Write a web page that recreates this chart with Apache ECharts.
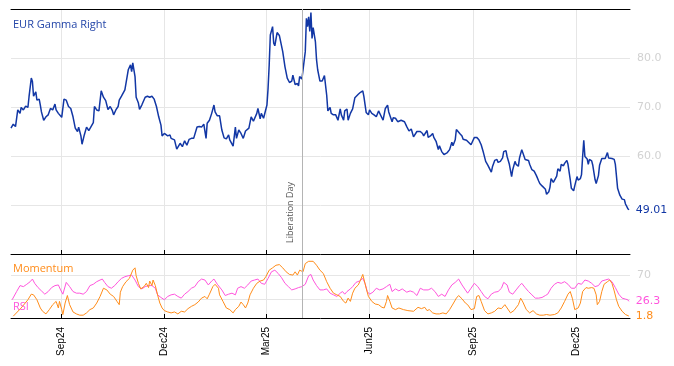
<!DOCTYPE html>
<html><head><meta charset="utf-8">
<script src="https://cdn.jsdelivr.net/npm/echarts@6/dist/echarts.min.js"></script>
<style>html,body{margin:0;padding:0;background:#fff}#c{width:674px;height:366px}</style>
</head><body><div id="c"></div>
<script>
const gammaDates = ['2024-07-18','2024-07-20','2024-07-22','2024-07-24','2024-07-26','2024-07-27','2024-07-29','2024-07-31','2024-08-02','2024-08-03','2024-08-05','2024-08-06','2024-08-07','2024-08-09','2024-08-10','2024-08-12','2024-08-13','2024-08-14','2024-08-16','2024-08-18','2024-08-20','2024-08-22','2024-08-24','2024-08-26','2024-08-27','2024-08-29','2024-09-01','2024-09-03','2024-09-05','2024-09-07','2024-09-09','2024-09-11','2024-09-13','2024-09-15','2024-09-16','2024-09-18','2024-09-19','2024-09-21','2024-09-23','2024-09-25','2024-09-27','2024-09-29','2024-09-30','2024-10-02','2024-10-04','2024-10-06','2024-10-08','2024-10-10','2024-10-12','2024-10-14','2024-10-16','2024-10-17','2024-10-19','2024-10-21','2024-10-22','2024-10-24','2024-10-25','2024-10-27','2024-10-28','2024-10-30','2024-11-01','2024-11-02','2024-11-03','2024-11-05','2024-11-06','2024-11-08','2024-11-09','2024-11-11','2024-11-14','2024-11-16','2024-11-18','2024-11-20','2024-11-22','2024-11-24','2024-11-26','2024-11-28','2024-11-29','2024-12-01','2024-12-02','2024-12-04','2024-12-06','2024-12-07','2024-12-10','2024-12-12','2024-12-13','2024-12-15','2024-12-17','2024-12-19','2024-12-21','2024-12-23','2024-12-25','2024-12-27','2024-12-30','2025-01-01','2025-01-03','2025-01-05','2025-01-07','2025-01-08','2025-01-10','2025-01-12','2025-01-14','2025-01-15','2025-01-17','2025-01-19','2025-01-21','2025-01-23','2025-01-25','2025-01-27','2025-01-28','2025-01-31','2025-02-02','2025-02-03','2025-02-05','2025-02-07','2025-02-09','2025-02-11','2025-02-14','2025-02-16','2025-02-18','2025-02-21','2025-02-22','2025-02-24','2025-02-25','2025-02-27','2025-02-28','2025-03-02','2025-03-03','2025-03-04','2025-03-05','2025-03-07','2025-03-08','2025-03-09','2025-03-11','2025-03-13','2025-03-14','2025-03-16','2025-03-18','2025-03-20','2025-03-22','2025-03-24','2025-03-25','2025-03-27','2025-03-29','2025-03-30','2025-03-31','2025-04-02','2025-04-03','2025-04-05','2025-04-06','2025-04-07','2025-04-08','2025-04-09','2025-04-10','2025-04-11','2025-04-12','2025-04-14','2025-04-15','2025-04-16','2025-04-18','2025-04-20','2025-04-22','2025-04-24','2025-04-25','2025-04-27','2025-04-28','2025-04-30','2025-05-02','2025-05-04','2025-05-06','2025-05-07','2025-05-09','2025-05-10','2025-05-12','2025-05-13','2025-05-15','2025-05-17','2025-05-19','2025-05-20','2025-05-22','2025-05-24','2025-05-26','2025-05-27','2025-05-29','2025-05-31','2025-06-01','2025-06-03','2025-06-05','2025-06-07','2025-06-09','2025-06-10','2025-06-13','2025-06-15','2025-06-17','2025-06-18','2025-06-21','2025-06-22','2025-06-24','2025-06-26','2025-06-29','2025-06-30','2025-07-02','2025-07-04','2025-07-06','2025-07-08','2025-07-10','2025-07-13','2025-07-16','2025-07-18','2025-07-19','2025-07-22','2025-07-23','2025-07-25','2025-07-27','2025-07-28','2025-07-30','2025-08-01','2025-08-02','2025-08-04','2025-08-06','2025-08-07','2025-08-09','2025-08-11','2025-08-13','2025-08-14','2025-08-16','2025-08-17','2025-08-18','2025-08-20','2025-08-22','2025-08-23','2025-08-26','2025-08-27','2025-08-30','2025-08-31','2025-09-02','2025-09-04','2025-09-06','2025-09-08','2025-09-10','2025-09-12','2025-09-14','2025-09-17','2025-09-18','2025-09-20','2025-09-22','2025-09-23','2025-09-25','2025-09-27','2025-09-28','2025-09-30','2025-10-01','2025-10-03','2025-10-05','2025-10-06','2025-10-08','2025-10-09','2025-10-11','2025-10-12','2025-10-14','2025-10-15','2025-10-17','2025-10-18','2025-10-20','2025-10-21','2025-10-23','2025-10-25','2025-10-27','2025-10-29','2025-10-30','2025-11-01','2025-11-02','2025-11-04','2025-11-05','2025-11-07','2025-11-08','2025-11-09','2025-11-11','2025-11-12','2025-11-14','2025-11-15','2025-11-17','2025-11-18','2025-11-20','2025-11-21','2025-11-23','2025-11-24','2025-11-26','2025-11-27','2025-11-29','2025-11-30','2025-12-02','2025-12-03','2025-12-05','2025-12-06','2025-12-07','2025-12-08','2025-12-09','2025-12-11','2025-12-12','2025-12-13','2025-12-15','2025-12-16','2025-12-18','2025-12-19','2025-12-21','2025-12-22','2025-12-24','2025-12-27','2025-12-28','2025-12-29','2025-12-30','2026-01-02','2026-01-04','2026-01-05','2026-01-06','2026-01-07','2026-01-09','2026-01-11','2026-01-13','2026-01-14','2026-01-16','2026-01-17'];
const gammaValues = [65.7,66.5,66.0,69.4,68.7,69.9,69.4,70.2,69.9,72.1,75.9,75.2,72.2,73.1,71.4,71.6,70.4,69.0,67.3,68.0,68.4,69.7,69.4,70.6,69.4,68.7,67.9,71.6,71.4,70.1,69.7,68.0,65.7,65.0,65.9,64.1,62.4,64.3,65.9,65.2,66.0,66.8,70.1,69.4,69.2,73.3,72.0,71.3,69.5,70.1,69.2,68.4,69.4,70.1,71.4,72.2,71.8,73.5,73.3,77.6,78.6,77.2,79.0,76.2,72.0,70.8,69.5,70.4,72.0,72.2,72.0,72.2,71.6,70.1,68.0,66.3,64.1,64.6,65.0,64.1,64.3,63.6,63.3,61.4,61.1,62.6,61.9,63.1,62.2,63.4,63.6,63.6,65.9,66.0,65.9,66.5,63.6,66.7,67.3,68.7,70.4,69.0,68.2,68.2,65.3,63.7,63.5,64.3,63.3,62.0,65.9,63.6,65.3,64.6,63.6,65.1,65.7,68.0,67.1,68.7,69.7,67.6,68.7,67.7,67.3,70.4,73.8,78.6,84.7,86.4,83.0,82.5,85.2,84.6,84.6,81.3,78.2,75.9,75.0,75.3,76.5,74.6,74.8,74.3,76.2,75.7,76.0,81.3,88.1,86.4,88.4,85.4,89.3,84.0,86.2,83.3,79.6,77.6,75.3,75.3,76.4,72.4,69.2,69.9,68.7,68.4,68.4,67.3,69.6,68.4,67.3,69.2,69.6,67.3,68.7,69.6,71.9,71.6,72.6,73.0,73.3,72.1,68.9,68.4,69.4,68.7,68.4,68.0,69.2,69.2,67.3,69.7,70.4,69.0,67.0,67.8,67.7,67.0,67.3,66.9,67.0,66.0,65.1,65.5,63.9,65.0,65.0,64.6,64.1,65.2,63.8,64.1,64.6,63.8,63.0,61.3,62.1,60.9,60.3,59.9,60.7,61.3,62.8,62.1,63.3,65.4,65.8,64.6,64.1,63.4,63.2,62.8,62.3,62.8,63.8,63.8,63.3,62.3,60.7,58.9,58.1,56.7,57.8,59.1,59.3,58.7,58.9,59.6,60.9,61.1,59.9,58.3,55.8,57.2,58.9,58.3,57.9,59.6,61.3,61.3,59.3,59.6,59.1,58.3,57.2,56.9,56.0,54.9,54.4,53.9,54.0,53.2,52.2,52.7,53.6,55.4,54.6,54.2,55.9,57.4,56.9,58.3,58.0,58.5,59.1,58.3,55.2,53.4,52.9,53.9,55.8,55.1,55.4,56.2,59.9,63.2,59.9,59.4,58.3,59.3,59.0,58.1,55.2,54.4,56.0,58.1,59.5,59.5,59.9,60.7,59.6,59.5,59.3,58.3,55.9,53.4,52.0,51.2,51.1,50.2,49.3,49.01];

const rsiDates = ['2024-07-19','2024-07-23','2024-07-26','2024-07-29','2024-08-01','2024-08-04','2024-08-06','2024-08-08','2024-08-11','2024-08-14','2024-08-17','2024-08-20','2024-08-23','2024-08-26','2024-08-29','2024-08-31','2024-09-02','2024-09-05','2024-09-08','2024-09-11','2024-09-14','2024-09-17','2024-09-20','2024-09-23','2024-09-26','2024-09-29','2024-10-02','2024-10-05','2024-10-07','2024-10-09','2024-10-12','2024-10-15','2024-10-18','2024-10-21','2024-10-24','2024-10-27','2024-10-30','2024-11-02','2024-11-05','2024-11-08','2024-11-11','2024-11-14','2024-11-17','2024-11-20','2024-11-23','2024-11-25','2024-11-28','2024-12-01','2024-12-04','2024-12-07','2024-12-10','2024-12-13','2024-12-16','2024-12-19','2024-12-22','2024-12-25','2024-12-28','2024-12-31','2025-01-03','2025-01-06','2025-01-09','2025-01-12','2025-01-14','2025-01-17','2025-01-21','2025-01-24','2025-01-27','2025-01-30','2025-02-02','2025-02-04','2025-02-07','2025-02-10','2025-02-13','2025-02-16','2025-02-19','2025-02-22','2025-02-25','2025-02-28','2025-03-03','2025-03-06','2025-03-09','2025-03-12','2025-03-15','2025-03-18','2025-03-21','2025-03-24','2025-03-27','2025-03-30','2025-04-02','2025-04-05','2025-04-08','2025-04-10','2025-04-12','2025-04-15','2025-04-18','2025-04-21','2025-04-24','2025-04-27','2025-04-30','2025-05-03','2025-05-06','2025-05-08','2025-05-10','2025-05-12','2025-05-15','2025-05-17','2025-05-20','2025-05-23','2025-05-26','2025-05-28','2025-05-30','2025-06-01','2025-06-04','2025-06-07','2025-06-10','2025-06-13','2025-06-16','2025-06-19','2025-06-21','2025-06-24','2025-06-27','2025-06-30','2025-07-04','2025-07-07','2025-07-10','2025-07-13','2025-07-16','2025-07-19','2025-07-23','2025-07-26','2025-07-29','2025-08-01','2025-08-04','2025-08-07','2025-08-10','2025-08-13','2025-08-16','2025-08-19','2025-08-22','2025-08-25','2025-08-27','2025-08-30','2025-09-02','2025-09-05','2025-09-08','2025-09-11','2025-09-14','2025-09-17','2025-09-20','2025-09-23','2025-09-26','2025-09-28','2025-10-01','2025-10-03','2025-10-06','2025-10-09','2025-10-12','2025-10-14','2025-10-17','2025-10-20','2025-10-23','2025-10-26','2025-10-29','2025-11-01','2025-11-04','2025-11-06','2025-11-09','2025-11-12','2025-11-15','2025-11-18','2025-11-21','2025-11-24','2025-11-27','2025-11-30','2025-12-03','2025-12-06','2025-12-09','2025-12-12','2025-12-15','2025-12-18','2025-12-21','2025-12-24','2025-12-27','2025-12-30','2026-01-02','2026-01-05','2026-01-08','2026-01-11','2026-01-14','2026-01-16','2026-01-17'];
const rsiValues = [28.9,42.6,52.5,50.8,54.7,59.0,63.4,56.3,49.2,43.7,38.2,42.6,49.2,52.5,53.6,45.3,38.2,57.9,50.8,42.6,39.9,39.9,38.2,42.6,52.5,54.7,59.0,61.8,63.4,57.9,50.8,48.1,52.5,59.0,64.5,67.3,68.9,70.0,61.8,50.8,47.0,50.8,52.5,52.5,48.1,37.1,32.7,28.9,34.4,37.1,38.2,34.4,31.6,38.2,42.6,48.1,50.8,59.0,63.4,61.8,53.6,60.1,63.4,54.7,45.3,36.0,38.2,39.9,37.1,48.1,50.8,48.1,53.6,60.1,61.8,63.4,56.3,54.7,64.5,75.5,78.2,72.7,65.6,56.3,50.8,45.3,47.0,49.2,50.8,54.7,68.9,71.1,61.8,52.5,45.3,45.3,47.0,39.9,37.1,34.4,39.9,42.6,38.2,42.6,47.0,50.8,57.9,60.1,64.5,56.3,42.6,38.2,41.5,48.1,45.3,47.0,50.8,54.7,42.6,47.0,43.7,47.0,41.5,43.7,41.5,36.0,48.1,45.3,45.3,48.1,42.6,34.4,38.2,34.4,45.3,53.6,57.9,63.4,53.6,45.3,39.9,48.1,56.3,50.8,42.6,34.4,30.5,38.2,41.5,42.6,48.1,57.9,53.6,41.5,38.2,45.3,52.5,56.3,49.2,42.6,37.1,31.6,31.6,32.7,36.0,38.2,48.1,54.7,57.9,56.3,59.0,54.7,48.1,48.1,56.3,54.7,61.8,60.1,56.3,50.8,52.5,60.1,61.8,63.4,59.0,49.2,38.2,31.6,30.0,28.9,26.3];

const momDates = ['2024-07-20','2024-07-27','2024-08-02','2024-08-05','2024-08-07','2024-08-10','2024-08-13','2024-08-15','2024-08-18','2024-08-21','2024-08-24','2024-08-27','2024-08-29','2024-08-30','2024-09-01','2024-09-02','2024-09-04','2024-09-06','2024-09-08','2024-09-11','2024-09-14','2024-09-17','2024-09-20','2024-09-23','2024-09-26','2024-09-29','2024-10-02','2024-10-05','2024-10-08','2024-10-11','2024-10-14','2024-10-17','2024-10-20','2024-10-22','2024-10-23','2024-10-25','2024-10-28','2024-10-31','2024-11-03','2024-11-05','2024-11-06','2024-11-08','2024-11-10','2024-11-13','2024-11-15','2024-11-17','2024-11-18','2024-11-20','2024-11-21','2024-11-23','2024-11-25','2024-11-27','2024-11-29','2024-12-01','2024-12-04','2024-12-07','2024-12-10','2024-12-13','2024-12-16','2024-12-19','2024-12-22','2024-12-25','2024-12-28','2024-12-31','2025-01-03','2025-01-06','2025-01-08','2025-01-10','2025-01-13','2025-01-15','2025-01-18','2025-01-19','2025-01-22','2025-01-25','2025-01-28','2025-01-31','2025-02-02','2025-02-05','2025-02-07','2025-02-09','2025-02-11','2025-02-13','2025-02-15','2025-02-18','2025-02-21','2025-02-24','2025-02-27','2025-03-01','2025-03-04','2025-03-07','2025-03-10','2025-03-13','2025-03-16','2025-03-19','2025-03-22','2025-03-25','2025-03-27','2025-03-29','2025-03-31','2025-04-03','2025-04-05','2025-04-08','2025-04-12','2025-04-15','2025-04-18','2025-04-21','2025-04-24','2025-04-27','2025-04-30','2025-05-03','2025-05-06','2025-05-09','2025-05-11','2025-05-13','2025-05-15','2025-05-17','2025-05-19','2025-05-22','2025-05-24','2025-05-26','2025-05-27','2025-05-29','2025-05-31','2025-06-03','2025-06-06','2025-06-09','2025-06-12','2025-06-14','2025-06-16','2025-06-17','2025-06-19','2025-06-21','2025-06-24','2025-06-27','2025-07-01','2025-07-05','2025-07-10','2025-07-14','2025-07-17','2025-07-20','2025-07-22','2025-07-24','2025-07-27','2025-07-30','2025-08-02','2025-08-05','2025-08-08','2025-08-11','2025-08-14','2025-08-17','2025-08-19','2025-08-22','2025-08-25','2025-08-27','2025-08-30','2025-09-02','2025-09-04','2025-09-06','2025-09-08','2025-09-11','2025-09-14','2025-09-17','2025-09-20','2025-09-23','2025-09-26','2025-09-29','2025-10-01','2025-10-04','2025-10-07','2025-10-11','2025-10-13','2025-10-15','2025-10-18','2025-10-21','2025-10-24','2025-10-27','2025-10-30','2025-11-02','2025-11-05','2025-11-08','2025-11-12','2025-11-15','2025-11-18','2025-11-21','2025-11-24','2025-11-26','2025-11-28','2025-11-30','2025-12-03','2025-12-05','2025-12-07','2025-12-10','2025-12-12','2025-12-15','2025-12-17','2025-12-19','2025-12-20','2025-12-22','2025-12-24','2025-12-26','2025-12-29','2025-12-31','2026-01-02','2026-01-04','2026-01-06','2026-01-08','2026-01-11','2026-01-14','2026-01-17'];
const momValues = [1.5,15.2,28.9,38.2,37.1,28.9,15.2,9.7,5.3,12.5,20.7,26.2,15.2,26.2,12.5,4.2,23.4,36.0,20.7,8.6,5.3,3.2,3.2,7.0,12.5,15.2,23.4,34.4,48.1,45.3,38.2,34.4,26.2,20.7,41.5,50.8,59.0,64.5,78.2,82.1,68.9,56.3,47.0,50.8,56.3,49.2,60.1,52.5,61.8,52.5,37.1,23.4,15.2,10.8,8.6,7.0,8.6,5.3,9.7,8.6,14.1,17.9,20.7,25.1,31.6,34.4,30.5,38.2,50.8,54.7,48.1,37.1,26.2,15.2,12.5,7.0,12.5,17.9,25.1,20.7,15.2,23.4,37.1,48.1,56.3,60.1,61.8,67.3,78.2,82.1,86.4,87.5,82.1,75.5,71.1,70.0,75.5,70.0,78.2,75.5,89.2,93.0,93.0,86.4,78.2,72.7,59.0,48.1,39.9,37.1,34.4,26.2,23.4,31.6,26.2,39.9,48.1,53.6,61.8,71.1,63.4,48.1,34.4,26.2,21.8,20.7,16.3,15.2,26.2,36.0,26.2,15.2,12.5,15.2,12.5,10.8,9.7,16.3,14.1,16.3,10.8,12.5,7.0,5.3,5.3,7.0,5.3,12.5,21.8,31.6,36.0,30.5,23.4,20.7,12.5,14.1,34.4,36.0,26.2,10.8,5.3,7.0,9.7,15.2,14.1,20.7,15.2,7.0,10.8,20.7,31.6,25.1,12.5,7.0,10.8,5.3,3.2,3.2,4.3,3.2,4.3,7.0,15.2,26.2,38.2,42.6,30.5,12.5,15.2,23.4,42.6,49.2,48.1,49.2,48.1,37.1,20.7,26.2,42.6,54.7,59.0,61.8,56.3,43.7,28.9,18.0,9.7,4.3,1.8];

const tickDates = ['2024-09-01','2024-12-01','2025-03-01','2025-06-01','2025-09-01','2025-12-01'];
const tickLabels = ['Sep24','Dec24','Mar25','Jun25','Sep25','Dec25'];
const gammaAxisShown = [60, 70, 80];
const oscAxisShown = [70];
const oscGridValues = [30, 70];
const xMin = '2024-07-18', xMax = '2026-01-18';
const eventDate = '2025-04-02', eventLabel = 'Liberation Day';
const titleMain = 'EUR Gamma Right', titleMom = 'Momentum', titleRsi = 'RSI';

const ts = s => Date.UTC(+s.slice(0, 4), +s.slice(5, 7) - 1, +s.slice(8, 10));
const tickTs = tickDates.map(ts);
const fmtTick = v => { for (let i = 0; i < tickTs.length; i++) if (Math.abs(tickTs[i] - v) < 43200000) return tickLabels[i]; return ''; };
const zip = (d, v) => d.map((x, i) => [ts(x), v[i]]);

const BLUE = '#1237a5', BLUE_T = '#2446a8', ORANGE = '#ff8c1a', PINK = '#ff55dd';
const chart = echarts.init(document.getElementById('c'), null, {renderer: 'canvas'});

const xAxisBottom = (grid, labels) => ({
  type: 'value', gridIndex: grid, min: ts(xMin), max: ts(xMax), position: 'bottom', scale: true,
  axisLine: {show: true, onZero: false, lineStyle: {color: '#000', width: 1}},
  axisTick: {show: true, inside: true, length: 4, customValues: tickTs, lineStyle: {color: '#000'}},
  axisLabel: {show: labels, customValues: tickTs, formatter: fmtTick, rotate: 90, fontSize: 10,
              color: '#000', fontFamily: 'Liberation Sans', margin: 9},
  splitLine: {show: true, lineStyle: {color: '#e6e6e6', width: 1}}
});
const xAxisTop = grid => ({
  type: 'value', gridIndex: grid, min: ts(xMin), max: ts(xMax), position: 'top', scale: true,
  axisLine: {show: true, onZero: false, lineStyle: {color: '#000', width: 1}},
  axisTick: {show: false}, axisLabel: {show: false}, splitLine: {show: false}
});
const vline = (withLabel) => ({
  silent: true, symbol: ['none', 'none'], animation: false,
  lineStyle: {color: '#b4b4b4', type: 'solid', width: 1},
  label: withLabel ? {show: true, formatter: eventLabel, position: 'insideStartTop', color: '#555',
         fontSize: 9, fontFamily: 'Open Sans', distance: [11, 7]} : {show: false},
  data: [{xAxis: ts(eventDate)}]
});
const endLbl = (color, txt) => ({show: true, formatter: () => txt, color: color, fontSize: 11,
  fontFamily: 'DejaVu Sans', distance: 7});

chart.setOption({
  animation: false,
  backgroundColor: '#fff',
  title: [
    {text: titleMain, left: 13, top: 19, padding: 0, textStyle: {color: BLUE_T, fontSize: 11, fontWeight: 'normal', fontFamily: 'Open Sans'}},
    {text: titleMom, left: 13, top: 263, padding: 0, textStyle: {color: ORANGE, fontSize: 11, fontWeight: 'normal', fontFamily: 'Open Sans'}},
    {text: titleRsi, left: 13, top: 301, padding: 0, textStyle: {color: PINK, fontSize: 11, fontWeight: 'normal', fontFamily: 'Open Sans'}}
  ],
  grid: [
    {left: 11, right: 44, top: 9, height: 245},
    {left: 11, right: 44, top: 255, height: 63}
  ],
  xAxis: [xAxisBottom(0, false), xAxisTop(0), xAxisBottom(1, true)],
  yAxis: [
    {type: 'value', gridIndex: 0, position: 'right', min: 40, max: 90, interval: 10,
     axisLine: {show: false}, axisTick: {show: false},
     axisLabel: {color: '#d2d2d2', fontSize: 11, fontFamily: 'DejaVu Sans', margin: 7,
                 formatter: v => gammaAxisShown.includes(v) ? v.toFixed(1) : ''},
     splitLine: {show: true, lineStyle: {color: '#e6e6e6', width: 1}}},
    {type: 'value', gridIndex: 1, position: 'right', min: -1.5, max: 103.5,
     axisLine: {show: false}, axisTick: {show: false, customValues: oscGridValues},
     axisLabel: {customValues: oscAxisShown, color: '#d2d2d2', fontSize: 11, fontFamily: 'DejaVu Sans', margin: 7},
     splitLine: {show: true, lineStyle: {color: '#e6e6e6', width: 1}}}
  ],
  series: [
    {type: 'line', name: titleMain, xAxisIndex: 0, yAxisIndex: 0, data: zip(gammaDates, gammaValues),
     showSymbol: false, symbol: 'none', lineStyle: {color: BLUE, width: 1.5}, itemStyle: {color: BLUE},
     endLabel: endLbl(BLUE, gammaValues[gammaValues.length - 1].toFixed(2)), markLine: vline(true), z: 3},
    {type: 'line', name: titleRsi, xAxisIndex: 2, yAxisIndex: 1, data: zip(rsiDates, rsiValues),
     showSymbol: false, symbol: 'none', lineStyle: {color: PINK, width: 1}, itemStyle: {color: PINK},
     endLabel: endLbl(PINK, rsiValues[rsiValues.length - 1].toFixed(1)), markLine: vline(false)},
    {type: 'line', name: titleMom, xAxisIndex: 2, yAxisIndex: 1, data: zip(momDates, momValues),
     showSymbol: false, symbol: 'none', lineStyle: {color: ORANGE, width: 1}, itemStyle: {color: ORANGE},
     endLabel: endLbl(ORANGE, momValues[momValues.length - 1].toFixed(1))}
  ]
});
</script>
</body></html>
